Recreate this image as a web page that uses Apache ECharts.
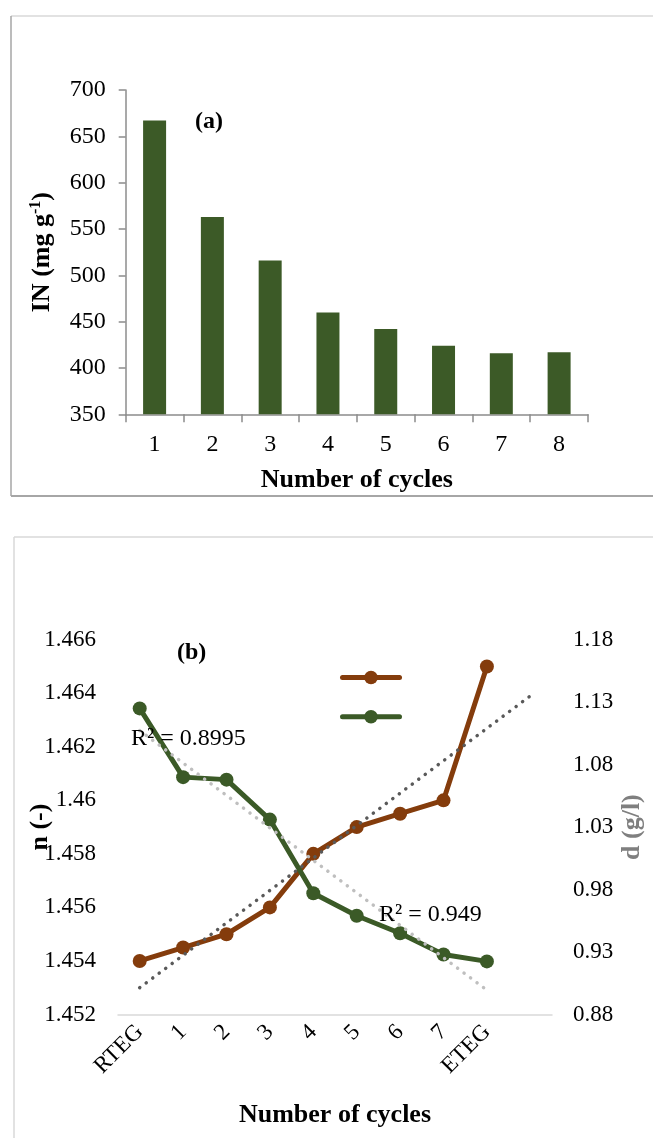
<!DOCTYPE html>
<html><head><meta charset="utf-8">
<script src="https://cdn.jsdelivr.net/npm/echarts@6/dist/echarts.min.js"></script>
<style>html,body{margin:0;padding:0;background:#fff}#c{width:653px;height:1138px}</style>
</head><body><div id="c"></div>
<script>
// ---- data ----
const cyclesA = ['1','2','3','4','5','6','7','8'];
const inValues = [667, 563, 516, 460, 442, 424, 416, 417];
const yTicksA = [350, 700, 50];
const cyclesB = ['RTEG','1','2','3','4','5','6','7','ETEG',''];
const nValues = [1.454, 1.4545, 1.455, 1.456, 1.458, 1.459, 1.4595, 1.460, 1.465];
const dValues = [1.125, 1.070, 1.068, 1.036, 0.977, 0.959, 0.945, 0.928, 0.9225];
const nTrend = [[0, 1.4530], [9, 1.4639]];
const dTrend = [[0, 1.1073], [8, 0.8995]];
const r2Labels = ['R\u00b2 = 0.8995', 'R\u00b2 = 0.949'];

const FONT = 'Liberation Serif';
const BROWN = '#843C0C', GREEN = '#3B5A27', BAR = '#3C5A27';

const chart = echarts.init(document.getElementById('c'), null, {renderer: 'canvas'});
const nameStyle = {fontFamily: FONT, fontWeight: 'bold', fontSize: 26, color: '#000'};

chart.setOption({
  backgroundColor: '#fff',
  animation: false,
  graphic: [
    {type: 'line', shape: {x1: 11, y1: 16, x2: 653, y2: 16}, style: {stroke: '#d9d9d9', lineWidth: 1.5}},
    {type: 'line', shape: {x1: 11, y1: 16, x2: 11, y2: 496}, style: {stroke: '#a6a6a6', lineWidth: 1.5}},
    {type: 'line', shape: {x1: 11, y1: 496, x2: 653, y2: 496}, style: {stroke: '#a6a6a6', lineWidth: 2}},
    {type: 'line', shape: {x1: 14, y1: 537, x2: 653, y2: 537}, style: {stroke: '#d9d9d9', lineWidth: 1.5}},
    {type: 'line', shape: {x1: 14, y1: 537, x2: 14, y2: 1138}, style: {stroke: '#d9d9d9', lineWidth: 1.5}},
    {type: 'text', left: 195, top: 110, style: {text: '(a)', font: 'bold 24px "Liberation Serif"', fill: '#000'}},
    {type: 'text', left: 177, top: 641, style: {text: '(b)', font: 'bold 24px "Liberation Serif"', fill: '#000'}},
    {type: 'text', left: 131, top: 727, z: 100, style: {text: r2Labels[0], font: '24px "Liberation Serif"', fill: '#000'}},
    {type: 'text', left: 379, top: 903, z: 100, style: {text: r2Labels[1], font: '24px "Liberation Serif"', fill: '#000'}}
  ],
  legend: {
    data: ['n', 'd'],
    orient: 'vertical',
    left: 340, top: 669, padding: 0,
    itemWidth: 57, itemHeight: 17, itemGap: 24,
    formatter: () => '',
    textStyle: {fontSize: 1},
    lineStyle: {width: 5, cap: 'round'},
    selectedMode: false
  },
  grid: [
    {left: 125.7, right: 65, top: 90, bottom: 723.7},
    {left: 118, right: 99, top: 639.7, bottom: 123.5}
  ],
  xAxis: [
    {
      gridIndex: 0, type: 'category', data: cyclesA,
      axisLine: {lineStyle: {color: '#8c8c8c', width: 1.5}},
      axisTick: {show: true, length: 8, lineStyle: {color: '#8c8c8c', width: 1.5}},
      axisLabel: {fontFamily: FONT, fontSize: 24, color: '#000', margin: 18},
      name: 'Number of cycles', nameLocation: 'middle', nameGap: 53, nameMoveOverlap: false, nameTextStyle: nameStyle
    },
    {
      gridIndex: 1, type: 'category', data: cyclesB,
      axisLine: {lineStyle: {color: '#d9d9d9', width: 1.5}},
      axisTick: {show: false},
      axisLabel: {fontFamily: FONT, fontSize: 23, color: '#000', rotate: 45, margin: 14, interval: 0},
      name: 'Number of cycles', nameLocation: 'middle', nameGap: 88, nameMoveOverlap: false, nameTextStyle: nameStyle
    }
  ],
  yAxis: [
    {
      gridIndex: 0, type: 'value', min: yTicksA[0], max: yTicksA[1], interval: yTicksA[2],
      axisLine: {show: true, lineStyle: {color: '#8c8c8c', width: 1.5}},
      axisTick: {show: true, length: 7, lineStyle: {color: '#8c8c8c', width: 1.5}},
      splitLine: {show: false},
      axisLabel: {fontFamily: FONT, fontSize: 24, color: '#000', margin: 20},
      name: '{b|IN (mg g}{s|-1}{b|)}', nameLocation: 'middle', nameGap: 68, nameMoveOverlap: false,
      nameTextStyle: {
        rich: {
          b: {fontFamily: FONT, fontWeight: 'bold', fontSize: 26, color: '#000', lineHeight: 30},
          s: {fontFamily: FONT, fontWeight: 'bold', fontSize: 16, color: '#000', lineHeight: 30, verticalAlign: 'top', padding: [0, 0, 12, 0]}
        }
      }
    },
    {
      gridIndex: 1, type: 'value', min: 1.452, max: 1.466, interval: 0.002,
      axisLine: {show: false}, axisTick: {show: false}, splitLine: {show: false},
      axisLabel: {fontFamily: FONT, fontSize: 23, color: '#000', margin: 22,
        formatter: v => String(parseFloat(v.toFixed(3)))},
      name: 'n (-)', nameLocation: 'middle', nameGap: 65, nameMoveOverlap: false, nameTextStyle: nameStyle
    },
    {
      gridIndex: 1, type: 'value', position: 'right', min: 0.88, max: 1.18, interval: 0.05,
      axisLine: {show: false}, axisTick: {show: false}, splitLine: {show: false},
      axisLabel: {fontFamily: FONT, fontSize: 23, color: '#000', margin: 21,
        formatter: v => v.toFixed(2)},
      name: 'd (g/l)', nameLocation: 'middle', nameGap: 67, nameMoveOverlap: false,
      nameTextStyle: {fontFamily: FONT, fontWeight: 'bold', fontSize: 26, color: '#7f7f7f'}
    }
  ],
  series: [
    {
      type: 'bar', xAxisIndex: 0, yAxisIndex: 0, data: inValues,
      barWidth: 23, itemStyle: {color: BAR}
    },
    {
      name: 'n', type: 'line', xAxisIndex: 1, yAxisIndex: 1, data: nValues,
      symbol: 'circle', symbolSize: 14,
      lineStyle: {color: BROWN, width: 5}, itemStyle: {color: BROWN}
    },
    {
      name: 'd', type: 'line', xAxisIndex: 1, yAxisIndex: 2, data: dValues,
      symbol: 'circle', symbolSize: 14,
      lineStyle: {color: GREEN, width: 5}, itemStyle: {color: GREEN}
    },
    {
      name: 'n trend', type: 'line', xAxisIndex: 1, yAxisIndex: 1, data: nTrend,
      symbol: 'none', silent: true, z: 5,
      lineStyle: {color: '#595959', width: 3.5, type: [0.1, 8], cap: 'round'}
    },
    {
      name: 'd trend', type: 'line', xAxisIndex: 1, yAxisIndex: 2, data: dTrend,
      symbol: 'none', silent: true, z: 5,
      lineStyle: {color: '#bfbfbf', width: 3.5, type: [0.1, 8], cap: 'round'}
    }
  ]
});
</script>
</body></html>
